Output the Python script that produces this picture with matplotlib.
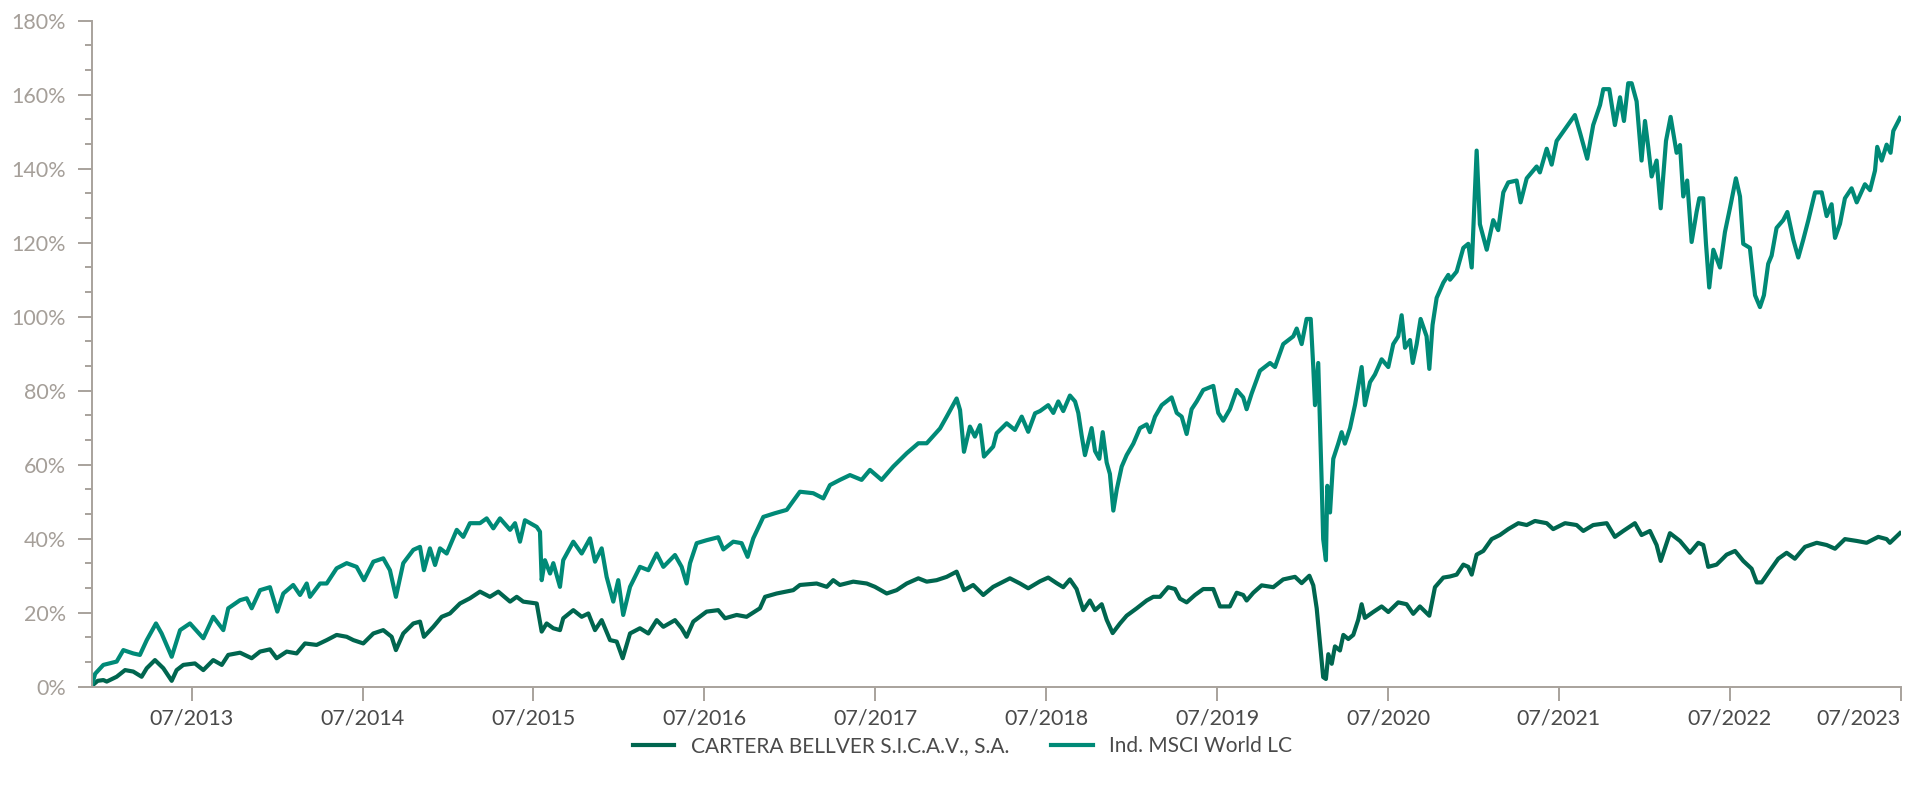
import matplotlib
matplotlib.use("Agg")
import matplotlib.pyplot as plt
from matplotlib.ticker import AutoMinorLocator, FuncFormatter

plt.rcParams['font.family'] = ['Lato', 'DejaVu Sans']

# time as decimal years, values in % return since start
msci_t = [2012.917, 2012.935, 2012.983, 2013.061, 2013.100, 2013.158, 2013.197, 2013.237, 2013.291,
          2013.324, 2013.383, 2013.432, 2013.490, 2013.568, 2013.626, 2013.685, 2013.714, 2013.783,
          2013.822, 2013.851, 2013.900, 2013.958, 2014.001, 2014.036, 2014.094, 2014.134, 2014.173,
          2014.192, 2014.251, 2014.290, 2014.348, 2014.407, 2014.465, 2014.508, 2014.563, 2014.621,
          2014.660, 2014.695, 2014.738, 2014.797, 2014.836, 2014.859, 2014.894, 2014.924, 2014.953,
          2014.992, 2015.051, 2015.089, 2015.128, 2015.187, 2015.226, 2015.265, 2015.304, 2015.363,
          2015.392, 2015.421, 2015.450, 2015.519, 2015.538, 2015.548, 2015.567, 2015.597, 2015.616,
          2015.655, 2015.674, 2015.733, 2015.782, 2015.831, 2015.860, 2015.899, 2015.928, 2015.967,
          2015.996, 2016.025, 2016.065, 2016.123, 2016.172, 2016.221, 2016.260, 2016.328, 2016.367,
          2016.396, 2016.416, 2016.455, 2016.513, 2016.581, 2016.611, 2016.669, 2016.718, 2016.753,
          2016.786, 2016.845, 2016.913, 2016.982, 2017.059, 2017.137, 2017.196, 2017.235, 2017.293,
          2017.352, 2017.420, 2017.469, 2017.537, 2017.605, 2017.684, 2017.752, 2017.801, 2017.879,
          2017.918, 2017.976, 2017.996, 2018.019, 2018.054, 2018.083, 2018.113, 2018.136, 2018.190,
          2018.210, 2018.269, 2018.317, 2018.357, 2018.395, 2018.435, 2018.464, 2018.512, 2018.542,
          2018.571, 2018.600, 2018.639, 2018.669, 2018.688, 2018.708, 2018.727, 2018.766, 2018.786,
          2018.811, 2018.831, 2018.854, 2018.873, 2018.893, 2018.913, 2018.942, 2018.971, 2019.010,
          2019.049, 2019.088, 2019.107, 2019.137, 2019.176, 2019.234, 2019.264, 2019.293, 2019.322,
          2019.351, 2019.381, 2019.419, 2019.478, 2019.507, 2019.536, 2019.575, 2019.615, 2019.653,
          2019.673, 2019.702, 2019.751, 2019.810, 2019.839, 2019.887, 2019.946, 2019.966, 2019.995,
          2020.024, 2020.048, 2020.063, 2020.073, 2020.092, 2020.112, 2020.121, 2020.137, 2020.145,
          2020.161, 2020.180, 2020.209, 2020.229, 2020.248, 2020.278, 2020.307, 2020.346, 2020.365,
          2020.395, 2020.424, 2020.463, 2020.502, 2020.531, 2020.560, 2020.580, 2020.600, 2020.629,
          2020.645, 2020.668, 2020.691, 2020.726, 2020.742, 2020.761, 2020.785, 2020.824, 2020.853,
          2020.863, 2020.902, 2020.941, 2020.970, 2020.990, 2021.019, 2021.038, 2021.078, 2021.116,
          2021.145, 2021.175, 2021.204, 2021.253, 2021.276, 2021.312, 2021.370, 2021.389, 2021.429,
          2021.458, 2021.487, 2021.536, 2021.594, 2021.624, 2021.666, 2021.701, 2021.741, 2021.760,
          2021.795, 2021.828, 2021.858, 2021.881, 2021.906, 2021.926, 2021.955, 2021.984, 2022.004,
          2022.023, 2022.043, 2022.072, 2022.096, 2022.127, 2022.154, 2022.189, 2022.209, 2022.228,
          2022.251, 2022.277, 2022.306, 2022.322, 2022.345, 2022.361, 2022.380, 2022.404, 2022.443,
          2022.472, 2022.501, 2022.536, 2022.560, 2022.579, 2022.618, 2022.648, 2022.677, 2022.700,
          2022.725, 2022.745, 2022.774, 2022.813, 2022.837, 2022.872, 2022.901, 2022.930, 2022.960,
          2022.999, 2023.038, 2023.067, 2023.096, 2023.116, 2023.145, 2023.174, 2023.213, 2023.243,
          2023.291, 2023.321, 2023.350, 2023.363, 2023.389, 2023.418, 2023.441, 2023.457, 2023.496]
msci_v = [0.5, 3.5, 5.9, 6.8, 9.9, 9.0, 8.6, 12.6, 17.1,
          14.4, 8.1, 15.3, 17.1, 13.1, 18.9, 15.3, 21.2, 23.4,
          23.9, 21.2, 26.1, 26.9, 20.3, 25.2, 27.5, 24.8, 27.9,
          24.3, 27.9, 27.9, 32.0, 33.4, 32.4, 28.8, 33.8, 34.7,
          31.5, 24.3, 33.4, 37.0, 37.8, 31.5, 37.4, 32.9, 37.4,
          36.0, 42.4, 40.5, 44.2, 44.2, 45.5, 42.8, 45.5, 42.4,
          44.2, 39.2, 45.0, 43.2, 41.9, 28.8, 34.2, 30.6, 33.4,
          27.0, 34.2, 39.2, 36.0, 40.1, 33.8, 37.4, 29.7, 23.0,
          28.8, 19.4, 27.0, 32.4, 31.5, 36.0, 32.4, 35.6, 32.4,
          27.9, 33.4, 38.8, 39.6, 40.4, 37.1, 39.2, 38.8, 35.1,
          40.1, 45.9, 46.9, 47.8, 52.7, 52.3, 50.9, 54.5, 55.9,
          57.2, 55.9, 58.6, 55.9, 59.5, 63.1, 65.8, 65.8, 69.8,
          73.0, 77.9, 74.8, 63.5, 70.3, 67.6, 70.7, 62.2, 64.9,
          68.5, 71.2, 69.4, 73.0, 68.9, 73.9, 74.5, 76.1, 74.0,
          77.1, 74.5, 78.7, 77.1, 74.0, 67.8, 62.6, 69.9, 63.7,
          61.6, 68.8, 60.6, 57.5, 47.6, 53.3, 59.5, 62.6, 65.7,
          69.9, 70.9, 68.8, 73.0, 76.1, 78.2, 74.0, 73.0, 68.3,
          75.0, 77.1, 80.2, 81.3, 74.0, 71.9, 75.0, 80.2, 78.2,
          75.0, 79.2, 85.4, 87.5, 86.4, 92.6, 94.7, 96.8, 92.6,
          99.4, 99.4, 86.4, 76.1, 87.5, 55.4, 39.9, 34.2, 54.3,
          47.1, 61.6, 65.7, 68.8, 65.7, 69.9, 76.1, 86.4, 76.1,
          82.3, 84.4, 88.5, 86.4, 92.6, 94.7, 100.4, 91.6, 93.7,
          87.5, 92.6, 99.4, 94.7, 85.9, 97.8, 105.1, 109.2, 111.3,
          110.0, 112.2, 118.6, 119.7, 113.3, 144.9, 125.0, 118.1, 126.1,
          123.4, 133.6, 136.3, 136.8, 130.9, 137.4, 140.6, 139.0, 145.4,
          141.1, 147.5, 150.7, 154.5, 149.7, 142.7, 151.8, 157.2, 161.5,
          161.5, 151.8, 159.3, 152.9, 163.1, 163.1, 158.2, 142.2, 152.9,
          145.9, 137.9, 142.2, 129.3, 147.5, 154.0, 144.3, 146.4, 132.5,
          136.8, 120.2, 128.3, 132.0, 132.0, 119.7, 107.9, 118.1, 113.3,
          122.9, 129.3, 137.4, 132.5, 119.7, 118.6, 105.8, 102.6, 105.8,
          114.3, 116.5, 124.0, 126.1, 128.3, 120.8, 116.0, 120.8, 126.1,
          133.6, 133.6, 127.2, 130.4, 121.3, 125.1, 132.0, 134.7, 130.9,
          135.8, 134.2, 139.5, 145.9, 142.2, 146.5, 144.3, 150.2, 153.7]

cartera_t = [2012.917, 2012.950, 2012.983, 2013.003, 2013.061, 2013.110, 2013.158, 2013.207, 2013.237,
             2013.285, 2013.334, 2013.383, 2013.412, 2013.451, 2013.519, 2013.568, 2013.626, 2013.676,
             2013.714, 2013.783, 2013.851, 2013.900, 2013.958, 2013.997, 2014.056, 2014.114, 2014.163,
             2014.231, 2014.290, 2014.348, 2014.407, 2014.446, 2014.504, 2014.563, 2014.621, 2014.670,
             2014.695, 2014.738, 2014.797, 2014.836, 2014.859, 2014.914, 2014.963, 2015.011, 2015.070,
             2015.128, 2015.187, 2015.245, 2015.294, 2015.363, 2015.402, 2015.440, 2015.519, 2015.548,
             2015.577, 2015.616, 2015.655, 2015.674, 2015.733, 2015.782, 2015.821, 2015.860, 2015.899,
             2015.948, 2015.987, 2016.022, 2016.065, 2016.123, 2016.172, 2016.221, 2016.260, 2016.328,
             2016.367, 2016.396, 2016.435, 2016.513, 2016.581, 2016.621, 2016.689, 2016.747, 2016.825,
             2016.855, 2016.923, 2017.020, 2017.059, 2017.157, 2017.216, 2017.254, 2017.293, 2017.371,
             2017.450, 2017.498, 2017.567, 2017.625, 2017.684, 2017.752, 2017.801, 2017.859, 2017.918,
             2017.976, 2018.019, 2018.073, 2018.132, 2018.190, 2018.288, 2018.347, 2018.395, 2018.464,
             2018.512, 2018.561, 2018.600, 2018.639, 2018.678, 2018.717, 2018.756, 2018.786, 2018.825,
             2018.854, 2018.889, 2018.932, 2018.971, 2019.030, 2019.088, 2019.127, 2019.166, 2019.214,
             2019.254, 2019.283, 2019.322, 2019.371, 2019.419, 2019.478, 2019.517, 2019.575, 2019.615,
             2019.653, 2019.673, 2019.712, 2019.761, 2019.829, 2019.887, 2019.956, 2019.995, 2020.040,
             2020.063, 2020.083, 2020.102, 2020.121, 2020.137, 2020.151, 2020.171, 2020.190, 2020.219,
             2020.239, 2020.268, 2020.297, 2020.326, 2020.346, 2020.365, 2020.414, 2020.463, 2020.502,
             2020.560, 2020.609, 2020.648, 2020.687, 2020.742, 2020.775, 2020.824, 2020.863, 2020.902,
             2020.941, 2020.970, 2020.990, 2021.019, 2021.058, 2021.107, 2021.155, 2021.204, 2021.263,
             2021.312, 2021.360, 2021.429, 2021.467, 2021.536, 2021.604, 2021.643, 2021.701, 2021.780,
             2021.828, 2021.877, 2021.945, 2021.984, 2022.033, 2022.072, 2022.096, 2022.150, 2022.209,
             2022.267, 2022.316, 2022.345, 2022.374, 2022.423, 2022.482, 2022.531, 2022.579, 2022.628,
             2022.658, 2022.687, 2022.735, 2022.784, 2022.833, 2022.881, 2022.940, 2023.009, 2023.067,
             2023.116, 2023.174, 2023.243, 2023.301, 2023.369, 2023.418, 2023.437, 2023.496]
cartera_v = [0.3, 1.6, 1.8, 1.4, 2.7, 4.5, 4.1, 2.7, 5.0,
             7.2, 5.0, 1.6, 4.5, 5.9, 6.3, 4.5, 7.2, 5.9,
             8.6, 9.2, 7.7, 9.5, 10.1, 7.7, 9.5, 9.0, 11.7,
             11.3, 12.6, 14.0, 13.5, 12.6, 11.7, 14.4, 15.3, 13.5,
             9.9, 14.4, 17.1, 17.6, 13.5, 16.2, 18.9, 19.8, 22.5,
             23.9, 25.7, 24.3, 25.7, 23.0, 24.3, 23.0, 22.5, 14.9,
             17.1, 15.8, 15.3, 18.5, 20.7, 18.9, 19.8, 15.3, 18.0,
             12.6, 12.2, 7.7, 14.4, 15.8, 14.4, 18.0, 16.2, 18.0,
             15.8, 13.5, 17.6, 20.3, 20.7, 18.5, 19.4, 18.9, 21.2,
             24.3, 25.2, 26.1, 27.5, 27.9, 27.0, 28.8, 27.5, 28.4,
             27.9, 27.0, 25.2, 26.1, 27.9, 29.3, 28.4, 28.8, 29.7,
             31.1, 26.1, 27.5, 24.8, 27.0, 29.3, 27.9, 26.6, 28.5,
             29.5, 28.0, 26.9, 29.0, 26.4, 20.7, 23.3, 20.7, 22.3,
             18.1, 14.5, 17.1, 19.2, 21.2, 23.3, 24.3, 24.3, 26.9,
             26.4, 23.8, 22.8, 24.8, 26.4, 26.4, 21.7, 21.7, 25.4,
             24.8, 23.3, 25.4, 27.4, 26.9, 29.0, 29.7, 28.0, 30.0,
             27.4, 21.2, 11.9, 2.6, 2.1, 8.8, 6.2, 10.9, 9.8,
             14.0, 12.9, 14.0, 18.1, 22.3, 18.6, 20.2, 21.7, 20.2,
             22.8, 22.3, 19.7, 21.7, 19.2, 26.9, 29.5, 29.8, 30.3,
             33.0, 32.4, 30.3, 35.7, 36.7, 39.9, 41.0, 42.6, 44.2,
             43.7, 44.8, 44.2, 42.6, 44.2, 43.7, 42.1, 43.7, 44.2,
             40.5, 42.1, 44.2, 41.0, 42.1, 38.3, 34.0, 41.5, 39.4,
             36.2, 38.9, 38.3, 32.4, 33.0, 35.7, 36.7, 34.0, 31.9,
             28.2, 28.2, 31.4, 34.6, 36.2, 34.6, 37.8, 38.9, 38.3,
             37.3, 39.9, 39.4, 38.9, 40.5, 39.9, 38.9, 41.5]

years = list(range(2013, 2024))
tick_labels = ['07/%d' % y for y in years]

dark = '#00664F'
teal = '#008A77'
axis_gray = '#a8a29c'

fig = plt.figure(figsize=(19.10, 7.87), dpi=100)
ax = fig.add_axes([0.0482, 0.1274, 0.9469, 0.8463])

ax.plot(cartera_t, cartera_v, color=dark, lw=3.0, label='CARTERA BELLVER S.I.C.A.V., S.A.',
        solid_joinstyle='round')
ax.plot(msci_t, msci_v, color=teal, lw=3.0, label='Ind. MSCI World LC', solid_joinstyle='round')

ax.set_xlim(2012.917, 2023.5)
ax.set_ylim(0, 180)

ax.set_yticks(range(0, 181, 20))
ax.yaxis.set_major_formatter(FuncFormatter(lambda v, p: '%d%%' % v))
ax.yaxis.set_minor_locator(AutoMinorLocator(3))
ax.set_xticks([y + 0.5 for y in years])
ax.set_xticklabels(tick_labels)
ax.xaxis.get_majorticklabels()[-1].set_horizontalalignment('right')

for s in ['top', 'right']:
    ax.spines[s].set_visible(False)
for s in ['left', 'bottom']:
    ax.spines[s].set_color(axis_gray)
    ax.spines[s].set_linewidth(1.4)

ax.tick_params(axis='y', which='major', length=10, width=1.4, color=axis_gray,
               labelcolor='#a59f99', labelsize=15.5, pad=9)
ax.tick_params(axis='y', which='minor', length=5, width=1.4, color=axis_gray)
ax.tick_params(axis='x', which='major', length=10, width=1.4, color=axis_gray,
               labelcolor='#4a4a4a', labelsize=15.5, pad=6)

fig.legend(loc='lower center', bbox_to_anchor=(0.504, 0.015), ncol=2, frameon=False,
           fontsize=15, labelcolor='#4a4a4a', handlelength=2.0, columnspacing=2.0,
           handletextpad=0.8)

fig.savefig('out.png', dpi=100)
